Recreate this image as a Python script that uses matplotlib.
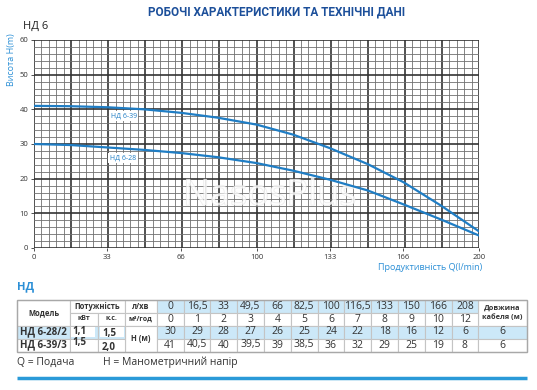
import numpy as np
import matplotlib.pyplot as plt
from matplotlib.patches import Rectangle
import matplotlib.patheffects as pe

plt.rcParams['font.family'] = ['Open Sans', 'DejaVu Sans']

# pump curves: flow Q (l/min), head H (m)
q_curve = [0, 16.5, 33, 49.5, 66, 82.5, 100, 116.5, 133, 150, 166, 183, 200]
h_628 = [30, 29.7, 29.0, 28.3, 27.4, 26.2, 24.5, 22.3, 19.7, 16.6, 12.6, 8.2, 3.6]
h_639 = [41, 40.9, 40.6, 40.0, 39.0, 37.6, 35.6, 32.7, 28.8, 24.2, 19.0, 12.2, 4.8]

x_ticks = [0, 33, 66, 100, 133, 166, 200]
y_ticks = [0, 10, 20, 30, 40, 50, 60]

# table data
flow_lmin = ['0', '16,5', '33', '49,5', '66', '82,5', '100', '116,5', '133', '150', '166', '208']
flow_m3h = ['0', '1', '2', '3', '4', '5', '6', '7', '8', '9', '10', '12']
models = ['НД 6-28/2', 'НД 6-39/3']
power_kw = ['1,1', '1,5']
power_hp = ['1,5', '2,0']
head_628 = ['30', '29', '28', '27', '26', '25', '24', '22', '18', '16', '12', '6']
head_639 = ['41', '40,5', '40', '39,5', '39', '38,5', '36', '32', '29', '25', '19', '8']
cable = ['6', '6']

BLUE = '#1f7dc4'
LBLUE = '#2b8fd6'
CELL = '#cce8f8'
TXT = '#333333'

W, H = 537, 390
fig = plt.figure(figsize=(W / 100, H / 100), dpi=100)

# chart
ax = fig.add_axes([34 / W, 1 - 248 / H, 445 / W, 208 / H])
ax.set_xlim(0, 200)
ax.set_ylim(0, 60)
for i, q in enumerate(np.linspace(0, 200, 61)):
    major = i % 5 == 0
    ax.axvline(q, color='#333333' if major else '#707070', lw=1.2 if major else 0.6, zorder=1)
for i, h in enumerate(np.arange(0, 61, 2)):
    major = i % 5 == 0
    ax.axhline(h, color='#333333' if major else '#707070', lw=1.2 if major else 0.6, zorder=1)
for s in ax.spines.values():
    s.set_visible(False)

ax.text(106, 15, 'NasosPlus', fontsize=26, color='white', ha='center', va='center',
        alpha=0.55, zorder=2, path_effects=[pe.withStroke(linewidth=0.7, foreground='#dadada')])

ax.plot(q_curve, h_639, color=BLUE, lw=1.6, zorder=3)
ax.plot(q_curve, h_628, color=BLUE, lw=1.6, zorder=3)
lab = dict(fontsize=5, color=BLUE, ha='center', va='center', zorder=4,
           bbox=dict(facecolor='white', edgecolor='none', pad=1))
ax.text(40.4, 38.1, 'НД 6-39', **lab)
ax.text(40.0, 25.9, 'НД 6-28', **lab)

ax.set_xticks(x_ticks)
ax.set_yticks(y_ticks)
ax.tick_params(axis='both', length=2.5, width=0.6, pad=1.5, labelsize=5.5,
               colors=TXT, direction='out')

fig.text(12 / W, 1 - 60 / H, 'Висота H(m)', rotation=90, fontsize=6.5, color=LBLUE,
         ha='center', va='center')
fig.text(482 / W, 1 - 268 / H, 'Продуктивність Q(l/min)', fontsize=6.5, color=LBLUE,
         ha='right', va='center')
fig.text(277 / W, 1 - 12 / H, 'РОБОЧІ ХАРАКТЕРИСТИКИ ТА ТЕХНІЧНІ ДАНІ', fontsize=8.5,
         fontweight='bold', family='Roboto', color='#1c4f9a', ha='center', va='center')
fig.text(23 / W, 1 - 26 / H, 'НД 6', fontsize=8, color='#222222', ha='left', va='center')

# table overlay in pixel coordinates
ov = fig.add_axes([0, 0, 1, 1])
ov.set_xlim(0, W)
ov.set_ylim(H, 0)
ov.axis('off')
ov.patch.set_alpha(0)


def cell(x0, y0, x1, y1, fc='white', text='', size=7.5, weight='normal', ha='center', tx=None, ty=None):
    ov.add_patch(Rectangle((x0, y0), x1 - x0, y1 - y0, facecolor=fc, edgecolor='#c4c4c4', lw=0.8))
    if text:
        px = tx if tx is not None else (x0 + x1) / 2
        py = ty if ty is not None else (y0 + y1) / 2
        ov.text(px, py, text, fontsize=size, fontweight=weight, color=TXT, ha=ha, va='center',
                linespacing=1.3)


ov.text(17, 287, 'НД', fontsize=8, fontweight='bold', color=LBLUE, ha='left', va='center')

rows = [300, 312.5, 325.5, 338.5, 351.5]
c_model, c_kw, c_hp, c_unit, c_data = 17, 70, 98, 125, 156.7
dw = 26.8
c_cable = c_data + 12 * dw
c_end = 526.7

cell(c_model, rows[0], c_kw, rows[2], text='Модель', size=5.5, weight='bold')
cell(c_kw, rows[0], c_unit, rows[1], text='Потужність', size=5.5, weight='bold')
cell(c_kw, rows[1], c_hp, rows[2], text='кВт', size=5, weight='bold')
cell(c_hp, rows[1], c_unit, rows[2], text='к.с.', size=5, weight='bold')
cell(c_unit, rows[0], c_data, rows[1], text='л/хв', size=5.5, weight='bold')
cell(c_unit, rows[1], c_data, rows[2], text='м³/год', size=5, weight='bold')
cell(c_unit, rows[2], c_data, rows[4], text='H (м)', size=5.5, weight='bold')
cell(c_cable, rows[0], c_end, rows[2], text='Довжина\nкабеля (м)', size=5.3, weight='bold')

for i in range(12):
    x0 = c_data + i * dw
    cell(x0, rows[0], x0 + dw, rows[1], CELL, flow_lmin[i])
    cell(x0, rows[1], x0 + dw, rows[2], 'white', flow_m3h[i])
    cell(x0, rows[2], x0 + dw, rows[3], CELL, head_628[i])
    cell(x0, rows[3], x0 + dw, rows[4], 'white', head_639[i])

for j in range(2):
    fc = CELL if j == 0 else 'white'
    y0, y1 = rows[2 + j], rows[3 + j]
    cell(c_model, y0, c_kw, y1, fc, models[j], size=7, weight='bold', ha='left', tx=c_model + 3)
    cell(c_kw, y0, c_hp, y1, fc)
    cell(c_hp, y0, c_unit, y1, fc)
    ov.add_patch(Rectangle((c_kw + 1, y0 + 1.2), c_hp - c_kw - 4, y1 - y0 - 2.4,
                           facecolor='white', edgecolor='none'))
    ov.add_patch(Rectangle((c_hp + 2, y0 + 1.2), c_unit - c_hp - 3.5, y1 - y0 - 2.4,
                           facecolor='white', edgecolor='none'))
    ov.text(c_kw + 2.5, y0 + 6 - 2 * j, power_kw[j], fontsize=7, fontweight='bold',
            color=TXT, ha='left', va='center')
    ov.text(c_hp + 4, y0 + 8 + j, power_hp[j], fontsize=7, fontweight='bold',
            color=TXT, ha='left', va='center')
    cell(c_cable, y0, c_end, y1, fc, cable[j])

ov.add_patch(Rectangle((c_model, rows[0]), c_end - c_model, rows[4] - rows[0],
                       facecolor='none', edgecolor='#a8a8a8', lw=1.0))

ov.text(17, 362, 'Q = Подача', fontsize=7.5, color=TXT, ha='left', va='center')
ov.text(103, 362, 'H = Манометричний напір', fontsize=7.5, color=TXT, ha='left', va='center')
ov.plot([17, 527], [378, 378], color='#2a9ad8', lw=2.5, solid_capstyle='butt')

fig.savefig('out.png', dpi=100)
